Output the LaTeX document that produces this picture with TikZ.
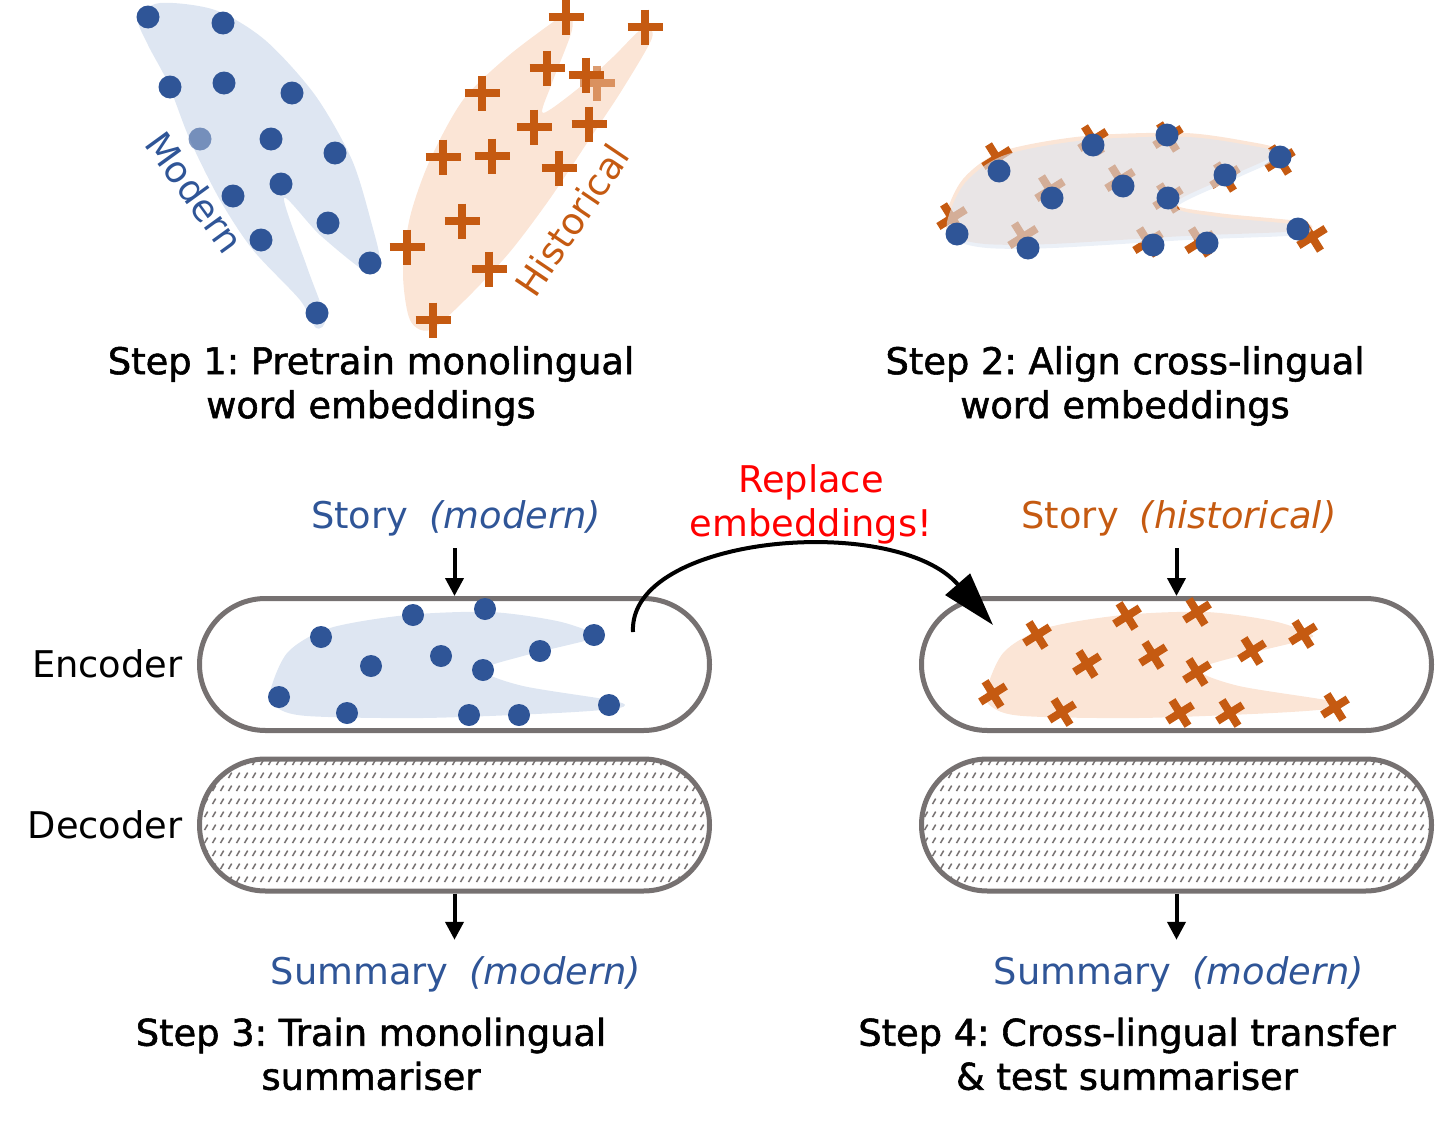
\documentclass[tikz,border=0pt]{standalone}
\usepackage{fontspec}
\setmainfont{DejaVu Sans}
\newfontfamily\stepfont[FakeBold=1.5]{DejaVu Sans}
\usetikzlibrary{arrows.meta,shapes.misc,patterns}
\frenchspacing

\definecolor{dotblue}{HTML}{2F5597}
\definecolor{markorange}{HTML}{C55A11}
\definecolor{blobblue}{HTML}{DEE6F2}
\definecolor{bloborange}{HTML}{FBE5D6}
\definecolor{boxgray}{HTML}{767171}
\definecolor{hatchgray}{HTML}{767171}

% rows of little slashes for the decoder
\pgfdeclarepatternformonly{slashrows}{\pgfqpoint{0pt}{0pt}}{\pgfqpoint{3.75pt}{6.3pt}}{\pgfqpoint{3.75pt}{6.3pt}}{%
  \pgfsetlinewidth{0.8pt}%
  \pgfpathmoveto{\pgfqpoint{0.8pt}{1.5pt}}%
  \pgfpathlineto{\pgfqpoint{2.5pt}{4.3pt}}%
  \pgfusepath{stroke}}

\begin{document}
\begin{tikzpicture}[x=0.5pt,y=-0.5pt,
  every node/.style={font=\fontsize{18.4}{22}\selectfont},
  steplabel/.style={align=center, font=\stepfont\fontsize{18.4}{22}\selectfont},
  sidelabel/.style={anchor=east, inner sep=0pt},
  flowlabel/.style={inner sep=3pt},
  plusbar/.style={draw=markorange, line width=4pt},
  encbox/.style={rounded rectangle, draw=boxgray, line width=2.5pt,
    minimum width=255pt, minimum height=66pt, inner sep=0pt},
  decbox/.style={encbox, pattern=slashrows, pattern color=hatchgray},
  flow/.style={line width=2pt, -{Triangle[length=9pt,width=9pt]}},
  swaparrow/.style={line width=2pt, -{Triangle[length=27pt,width=16pt]}}]
\useasboundingbox (0,0) rectangle (1436,1124);

% step 1
\fill[blobblue] plot[smooth cycle] coordinates {(138,18) (160,3) (215,10) (265,40) (315,95) (352,160) (372,225) (380,262) (368,273) (320,235) (284,198) (307,267) (325,318) (316,328) (300,300) (253,250) (220,200) (190,140) (168,83) (148,45)};
\fill[bloborange] plot[smooth cycle] coordinates {(403,273) (410,217) (430,160) (463,100) (507,57) (553,22) (568,12) (572,30) (552,83) (543,113) (580,87) (613,57) (643,28) (652,38) (622,90) (589,140) (549,200) (509,253) (465,300) (430,330) (410,320)};
\foreach \x/\y in {148/17, 223/23, 170/87, 224/83, 292/93, 271/139, 335/153, 233/196, 281/184, 328/223, 261/240, 370/263, 317/313}
  \fill[dotblue] (\x,\y) circle (11.5);
\fill[dotblue, fill opacity=0.6] (200,139) circle (11.5);
\node[text=dotblue, rotate=-54] (modern) at (195,192) {Modern};
\foreach \x/\y in {566/17, 645/27, 547/68, 586/75, 482/93, 534/127, 589/124, 443/157, 492/156, 559/168, 462/221, 407/247, 489/269, 433/320}
  \draw[plusbar] (\x-17.5,\y) -- (\x+17.5,\y) (\x,\y-17.5) -- (\x,\y+17.5);
\draw[plusbar, draw opacity=0.6] (597-17.5,83) -- (597+17.5,83) (597,83-17.5) -- (597,83+17.5);
\node[text=markorange, rotate=56] (historical) at (572,220) {Historical};
\node[steplabel] (step1) at (371,386) {Step 1: Pretrain monolingual\\word embeddings};

% step 2
\fill[bloborange, shift={(-2,-4)}] plot[smooth cycle] coordinates {(947,222) (965,183) (1005,155) (1087,140) (1187,137) (1253,146) (1280,153) (1270,163) (1237,178) (1177,207) (1220,217) (1300,225) (1314,232) (1287,236) (1187,240) (1053,248) (987,248) (955,240)};
\foreach \x/\y in {952/218, 997/158, 1050/190, 1093/140, 1168/137, 1120/180, 1168/198, 1225/177, 1280/160, 1023/237, 1148/242, 1200/242, 1312/237}
  \draw[plusbar, shift={(\x,\y)}, rotate=32] (-16,0) -- (16,0) (0,-16) -- (0,16);
\fill[blobblue, fill opacity=0.6] plot[smooth cycle] coordinates {(947,222) (965,183) (1005,155) (1087,140) (1187,137) (1253,146) (1280,153) (1270,163) (1237,178) (1177,207) (1220,217) (1300,225) (1310,232) (1287,236) (1187,240) (1053,248) (987,248) (955,240)};
\foreach \x/\y in {957/234, 999/171, 1052/198, 1093/145, 1167/135, 1123/186, 1168/198, 1225/175, 1280/157, 1028/248, 1153/245, 1207/243, 1298/229}
  \fill[dotblue] (\x,\y) circle (11.5);
\node[steplabel] (step2) at (1125,386) {Step 2: Align cross-lingual\\word embeddings};

% step 3
\node[encbox] (enc3) at (454.5,664.5) {};
\node[decbox] (dec3) at (454.5,825) {};
\fill[blobblue] plot[smooth cycle] coordinates {(270,692) (288,652) (330,628) (407,615) (490,612) (557,621) (595,634) (588,640) (523,656) (483,670) (523,686) (615,701) (619,708) (557,713) (423,718) (307,716) (276,707)};
\foreach \x/\y in {321/637, 413/615, 485/609, 594/635, 371/666, 441/656, 483/670, 540/651, 279/697, 347/713, 469/715, 519/715, 609/705}
  \fill[dotblue] (\x,\y) circle (11);
\node[sidelabel] (enclab) at (183,664) {Encoder};
\node[sidelabel] (declab) at (183,825) {Decoder};
\node[flowlabel, text=dotblue] (story3) at (456,518) {Story\hspace{0.25em} \textit{(modern)}};
\node[flowlabel, text=dotblue] (summary3) at (456,974) {Summary\hspace{0.25em} \textit{(modern)}};
\draw[flow, shorten <=3pt] (enc3.north |- story3.south) -- (enc3.north);
\draw[flow, shorten >=5pt] (dec3.south) -- (dec3.south |- summary3.north);
\node[steplabel] (step3) at (371,1054) {Step 3: Train monolingual\\summariser};

% step 4
\node[encbox] (enc4) at (1176.5,664.5) {};
\node[decbox] (dec4) at (1176.5,825) {};
\fill[bloborange, shift={(716,0)}] plot[smooth cycle] coordinates {(270,692) (288,652) (330,628) (407,615) (490,612) (557,621) (595,634) (588,640) (523,656) (483,670) (523,686) (615,701) (619,708) (557,713) (423,718) (307,716) (276,707)};
\foreach \x/\y in {1037/635, 1127/616, 1197/612, 1303/634, 1087/664, 1153/655, 1197/672, 1252/651, 993/694, 1062/712, 1180/713, 1230/713, 1335/707}
  \draw[plusbar, shift={(\x,\y)}, rotate=32] (-15,0) -- (15,0) (0,-15) -- (0,15);
\node[flowlabel, text=markorange] (story4) at (1179,518) {Story\hspace{0.25em} \textit{(historical)}};
\node[flowlabel, text=dotblue] (summary4) at (1179,974) {Summary\hspace{0.25em} \textit{(modern)}};
\draw[flow, shorten <=3pt] (enc4.north |- story4.south) -- (enc4.north);
\draw[flow, shorten >=5pt] (dec4.south) -- (dec4.south |- summary4.north);
\node[steplabel] (step4) at (1127,1054) {Step 4: Cross-lingual transfer\\\& test summariser};

% swap the embeddings
\node[flowlabel, text=red, align=center] (replace) at (811,504) {Replace\\embeddings!};
\coordinate (swapfrom) at (633,632);
\coordinate (swapto) at (993,625);
\draw[swaparrow] (swapfrom) .. controls (628,535) and (895,512) .. (swapto);
\end{tikzpicture}
\end{document}
